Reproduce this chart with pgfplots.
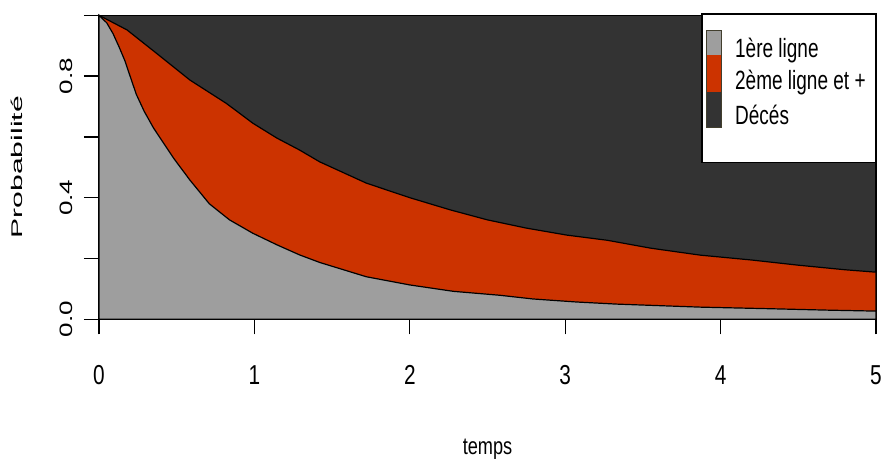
\documentclass[border=0pt]{standalone}
\usepackage{fontspec}
\setmainfont{Liberation Sans}
\newfontfamily\hfont[FakeStretch=0.76]{Liberation Sans}
\newfontfamily\lfont[FakeStretch=0.72]{Liberation Sans}
\newfontfamily\vfont[FakeStretch=1.45]{Liberation Sans}
\newfontfamily\ylfont[FakeStretch=1.95]{Liberation Sans}
\usepackage{pgfplots}
\pgfplotsset{compat=1.18}

\definecolor{premiere}{HTML}{9E9E9E}
\definecolor{deuxieme}{HTML}{CC3300}
\definecolor{deces}{HTML}{333333}

% courbes cumulees
\pgfplotstableread{
t      p
0      1.000
0.05   0.975
0.09   0.940
0.13   0.895
0.167  0.850
0.20   0.800
0.24   0.740
0.29   0.685
0.35   0.630
0.48   0.530
0.585  0.458
0.71   0.380
0.84   0.327
0.99   0.283
1.145  0.245
1.29   0.212
1.42   0.187
1.72   0.140
2.00   0.113
2.28   0.092
2.58   0.079
2.79   0.067
3.07   0.057
3.33   0.050
3.87   0.040
4.30   0.035
4.70   0.030
5.00   0.027
}\premiere

\pgfplotstableread{
t      p
0      1.000
0.18   0.952
0.37   0.875
0.585  0.787
0.82   0.710
0.99   0.645
1.145  0.596
1.29   0.557
1.42   0.518
1.72   0.448
2.00   0.400
2.26   0.360
2.50   0.327
2.75   0.300
3.01   0.277
3.27   0.260
3.55   0.234
3.87   0.211
4.20   0.195
4.50   0.178
4.80   0.163
5.00   0.155
}\deuxieme

\begin{document}
\begin{tikzpicture}
\path[use as bounding box] (0,0) rectangle (882bp,463bp);
\begin{axis}[
    at={(99bp,143.7bp)}, anchor=south west,
    scale only axis,
    width=777bp, height=304bp,
    xmin=0, xmax=5, ymin=0, ymax=1,
    clip=false,
    axis lines=left,
    axis line style={-, line width=1.3bp},
    tick align=outside,
    major tick length=15bp,
    tick style={black, line width=1.3bp},
    xtick={0,1,2,3,4,5},
    xticklabels={0,1,2,3,4,5},
    ytick={0,0.2,0.4,0.6,0.8,1},
    yticklabels={0.0,{},0.4,{},0.8,{}},
    xticklabel style={font=\hfont\fontsize{27.5}{30}\selectfont, anchor=center, yshift=-41bp},
    yticklabel style={font=\vfont\fontsize{18}{20}\selectfont, anchor=center, xshift=-18bp, rotate=90},
    xlabel={temps},
    ylabel={Probabilité},
    xlabel style={font=\hfont\fontsize{24}{26}\selectfont, at={(axis description cs:0.5,-0.428)}, anchor=center},
    ylabel style={font=\ylfont\fontsize{15.5}{18}\selectfont, at={(axis description cs:-0.1055,0.5)}, anchor=center},
]
  % deces : tout le rectangle
  \addplot[fill=deces, draw=black, line width=1.2bp] coordinates {(0,0) (5,0) (5,1) (0,1)} -- cycle;
  % 2eme ligne et +
  \addplot[fill=deuxieme, draw=black, line width=1.2bp] table[x=t, y=p] {\deuxieme} \closedcycle;
  % 1ere ligne
  \addplot[fill=premiere, draw=black, line width=1.2bp] table[x=t, y=p] {\premiere} \closedcycle;

  % legende
  \draw[black, fill=white, line width=1.2bp] (rel axis cs:0.776,0.517) rectangle (rel axis cs:1.0,1.004);
  \fill[premiere] (rel axis cs:0.782,0.950) rectangle (rel axis cs:0.801,0.869);
  \fill[deuxieme] (rel axis cs:0.782,0.869) rectangle (rel axis cs:0.801,0.747);
  \fill[deces]    (rel axis cs:0.782,0.747) rectangle (rel axis cs:0.801,0.630);
  \draw[black!70!olive, line width=1bp] (rel axis cs:0.782,0.950) rectangle (rel axis cs:0.801,0.630);
  \node[anchor=west, inner sep=0pt, font=\lfont\fontsize{26.5}{28}\selectfont] at (rel axis cs:0.8185,0.884) {1ère ligne};
  \node[anchor=west, inner sep=0pt, font=\lfont\fontsize{26.5}{28}\selectfont] at (rel axis cs:0.8185,0.779) {2ème ligne et +};
  \node[anchor=west, inner sep=0pt, font=\lfont\fontsize{26.5}{28}\selectfont] at (rel axis cs:0.8185,0.671) {Décés};
\end{axis}
\end{tikzpicture}
\end{document}
